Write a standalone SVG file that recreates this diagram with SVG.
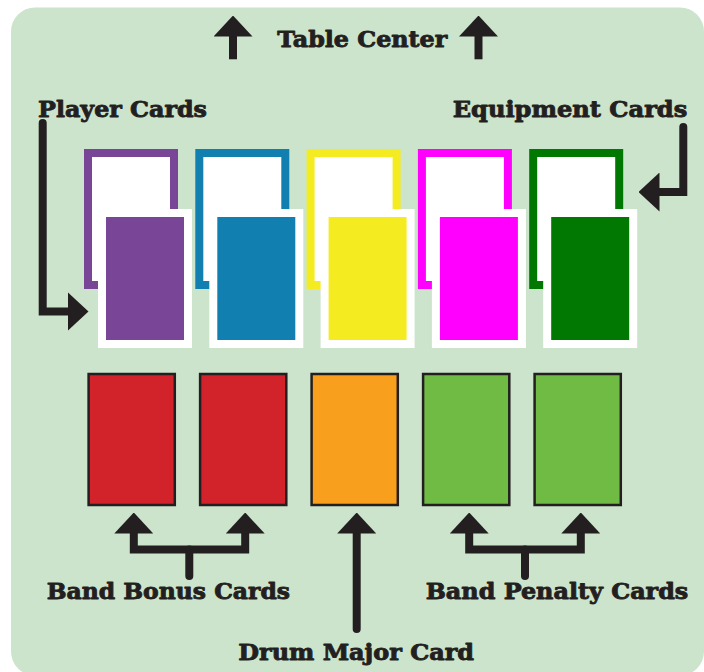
<svg xmlns="http://www.w3.org/2000/svg" width="704" height="672" viewBox="0 0 704 672">
  <style>
    .label { font-family: "DejaVu Serif", "Liberation Serif", serif; font-weight: bold; font-size: 23px; fill: #231f20; stroke: #231f20; stroke-width: 0.9; stroke-linejoin: round; }
    .line { fill: none; stroke: #231f20; stroke-width: 8; stroke-linejoin: miter; }
    .round { stroke-linecap: round; }
    .back { fill: #ffffff; stroke-width: 8; }
    .front { stroke: #ffffff; stroke-width: 8; }
    .base { stroke: #231f20; stroke-width: 2.5; }
  </style>
  <defs>
    <marker id="head" viewBox="0 0 21 39" refX="0.5" refY="19.5" markerWidth="21" markerHeight="39" markerUnits="userSpaceOnUse" orient="auto-start-reverse">
      <path d="M0,0 L21,19.5 L0,39 Z" fill="#231f20"/>
    </marker>
  </defs>

  <!-- play area -->
  <rect x="11" y="7.5" width="693" height="668" rx="24" ry="24" fill="#cde4cc"/>

  <!-- player / equipment card pairs -->
  <g id="card-purple">
    <rect class="back" x="88" y="153" width="86" height="132" stroke="#784597"/>
    <rect class="front" x="102" y="213" width="86" height="131" fill="#784597"/>
  </g>
  <g id="card-blue">
    <rect class="back" x="199.3" y="153" width="86" height="132" stroke="#127fb1"/>
    <rect class="front" x="213.3" y="213" width="86" height="131" fill="#127fb1"/>
  </g>
  <g id="card-yellow">
    <rect class="back" x="310.6" y="153" width="86" height="132" stroke="#f5eb21"/>
    <rect class="front" x="324.6" y="213" width="86" height="131" fill="#f5eb21"/>
  </g>
  <g id="card-magenta">
    <rect class="back" x="421.9" y="153" width="86" height="132" stroke="#ff00ff"/>
    <rect class="front" x="435.9" y="213" width="86" height="131" fill="#ff00ff"/>
  </g>
  <g id="card-green">
    <rect class="back" x="533.2" y="153" width="86" height="132" stroke="#017801"/>
    <rect class="front" x="547.2" y="213" width="86" height="131" fill="#017801"/>
  </g>

  <!-- band bonus / drum major / band penalty cards -->
  <g id="bonus-1"><rect class="base" x="88.6" y="374" width="86.2" height="131" fill="#d2232a"/></g>
  <g id="bonus-2"><rect class="base" x="200.1" y="374" width="86.2" height="131" fill="#d2232a"/></g>
  <g id="drum-major"><rect class="base" x="311.6" y="374" width="86.2" height="131" fill="#f89f1e"/></g>
  <g id="penalty-1"><rect class="base" x="423.1" y="374" width="86.2" height="131" fill="#70bb44"/></g>
  <g id="penalty-2"><rect class="base" x="534.6" y="374" width="86.2" height="131" fill="#70bb44"/></g>

  <!-- arrows -->
  <g id="connectors">
    <path class="line" d="M233,59.3 V36" marker-end="url(#head)"/>
    <path class="line" d="M478.5,59.3 V36" marker-end="url(#head)"/>
    <path class="line round" d="M42.7,123 V311.5 H68" marker-end="url(#head)"/>
    <path class="line round" d="M683.3,127 V192 H659" marker-end="url(#head)"/>
    <path class="line" d="M133.8,533 V549.5 H245.2 V533" marker-start="url(#head)" marker-end="url(#head)"/>
    <path class="line round" d="M189.3,549.5 V576"/>
    <path class="line round" d="M356.7,629 V533" marker-end="url(#head)"/>
    <path class="line" d="M469.2,533 V549.5 H580.8 V533" marker-start="url(#head)" marker-end="url(#head)"/>
    <path class="line round" d="M525,549.5 V576"/>
  </g>

  <!-- labels -->
  <g id="labels">
    <text class="label" x="277.3" y="46.5" textLength="170" lengthAdjust="spacingAndGlyphs">Table Center</text>
    <text class="label" x="38" y="117" textLength="169" lengthAdjust="spacingAndGlyphs">Player Cards</text>
    <text class="label" x="452.7" y="117.3" textLength="234.6" lengthAdjust="spacingAndGlyphs">Equipment Cards</text>
    <text class="label" x="46.7" y="599.3" textLength="243.3" lengthAdjust="spacingAndGlyphs">Band Bonus Cards</text>
    <text class="label" x="425.7" y="599.3" textLength="262.6" lengthAdjust="spacingAndGlyphs">Band Penalty Cards</text>
    <text class="label" x="238.3" y="660" textLength="235.7" lengthAdjust="spacingAndGlyphs">Drum Major Card</text>
  </g>
</svg>
